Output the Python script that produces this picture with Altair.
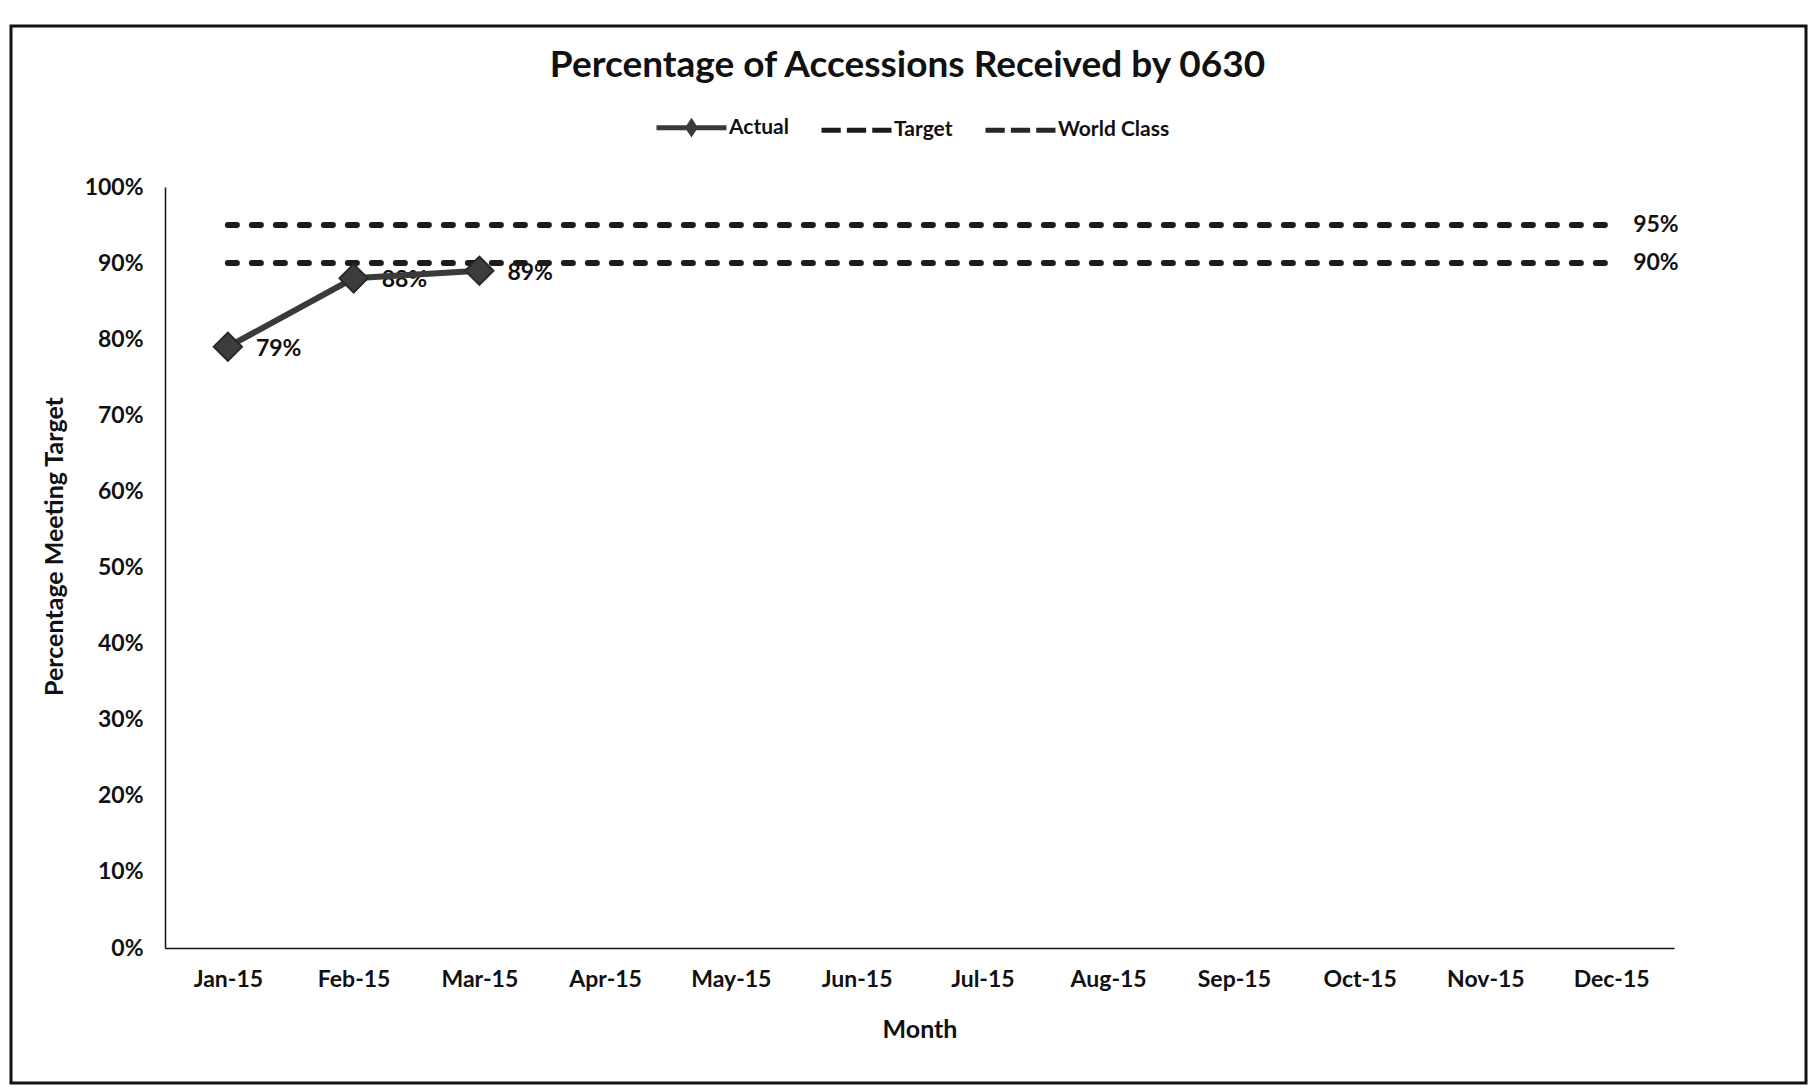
import altair as alt
import pandas as pd

# ---- data -------------------------------------------------------------
months = ["Jan-15", "Feb-15", "Mar-15", "Apr-15", "May-15", "Jun-15",
          "Jul-15", "Aug-15", "Sep-15", "Oct-15", "Nov-15", "Dec-15"]
actual_months = ["Jan-15", "Feb-15", "Mar-15"]
actual_values = [0.79, 0.88, 0.89]
target_values = [0.90, 0.90, 0.90, 0.90, 0.90, 0.90,
                 0.90, 0.90, 0.90, 0.90, 0.90, 0.90]
world_class_values = [0.95, 0.95, 0.95, 0.95, 0.95, 0.95,
                      0.95, 0.95, 0.95, 0.95, 0.95, 0.95]
series_names = ["Actual", "Target", "World Class"]
y_tick_values = [0.0, 0.1, 0.2, 0.3, 0.4, 0.5, 0.6, 0.7, 0.8, 0.9, 1.0]

rows = []
for m, v in zip(actual_months, actual_values):
    rows.append({"month": m, "series": "Actual", "value": v})
for m, v in zip(months, target_values):
    rows.append({"month": m, "series": "Target", "value": v})
for m, v in zip(months, world_class_values):
    rows.append({"month": m, "series": "World Class", "value": v})
df = pd.DataFrame(rows)

# ---- styling ----------------------------------------------------------
FONT = "Lato"
INK = "#111111"
LABEL_SIZE = 23
TITLE_SIZE = 25
ACTUAL_COLOR = "#3a3a3a"
REF_COLOR = "#1c1c1c"
series_colors = [ACTUAL_COLOR, REF_COLOR, "#262626"]

W, H = 1509, 761
PAD = {"left": 165, "top": 187, "right": 136, "bottom": 142}

# legend glyphs: a line with a small diamond for "Actual", three dashes otherwise
ACTUAL_GLYPH = "M-1,0H-0.1L0,-0.15L0.1,0H1M0.1,0L0,0.15L-0.1,0Z"
DASH_GLYPH = "M-1,0H-0.45M-0.275,0H0.275M0.45,0H1"

color_scale = alt.Scale(domain=series_names, range=series_colors)
shape_scale = alt.Scale(domain=series_names,
                        range=[ACTUAL_GLYPH, DASH_GLYPH, DASH_GLYPH])

legend_def = alt.Legend(
    title=None, orient="none", direction="horizontal",
    legendX=489, legendY=-97, padding=0,
    symbolSize=4900, symbolStrokeWidth=5, labelOffset=0,
    columnPadding=22, labelFont=FONT, labelFontSize=21,
    labelFontWeight="bold", labelColor=INK,
)

x_enc = alt.X(
    "month:O",
    sort=months,
    scale=alt.Scale(type="point", padding=0.5),
    axis=alt.Axis(title="Month", labelAngle=0, ticks=False, labelPadding=20,
                  titlePadding=26, domainColor=INK, domainWidth=1.5),
)
y_enc = alt.Y(
    "value:Q",
    scale=alt.Scale(domain=[0, 1], nice=False),
    axis=alt.Axis(title="Percentage Meeting Target", values=y_tick_values,
                  format=".0%", ticks=False, grid=False, labelPadding=22,
                  titlePadding=17, titleY=359, domainColor=INK, domainWidth=1.5),
)

base = alt.Chart(df)

# outer chart border
frame = alt.Chart(pd.DataFrame({"frame": [0]})).mark_rect(
    filled=False, stroke=INK, strokeWidth=3, clip=False
).encode(
    x=alt.value(-154), x2=alt.value(1641),
    y=alt.value(-161), y2=alt.value(896),
)

actual_only = base.transform_filter(alt.datum.series == "Actual")
reference_only = base.transform_filter(alt.datum.series != "Actual")

actual_labels = actual_only.mark_text(
    align="left", baseline="middle", dx=28, dy=2,
    font=FONT, fontSize=LABEL_SIZE, fontWeight="bold", color=INK,
).encode(x=x_enc, y=y_enc, text=alt.Text("value:Q", format=".0%"))

actual_line = actual_only.mark_line(
    strokeWidth=6, strokeCap="round", color=ACTUAL_COLOR
).encode(x=x_enc, y=y_enc)

reference_lines = reference_only.mark_line(
    strokeWidth=6, strokeCap="round", strokeDash=[9, 15], color=REF_COLOR
).encode(x=x_enc, y=y_enc, detail="series:N")

diamonds = actual_only.mark_point(
    shape="diamond", filled=True, size=800, color="#3d3d3d",
    stroke="#2a2a2a", strokeWidth=2, opacity=1,
).encode(x=x_enc, y=y_enc)

# legend carrier: draws no marks, only supplies the key glyphs
legend_layer = base.transform_filter("false").mark_point(
    filled=False, strokeWidth=5, opacity=1,
).encode(
    x=x_enc,
    y=y_enc,
    color=alt.Color("series:N", scale=color_scale, legend=legend_def),
    shape=alt.Shape("series:N", scale=shape_scale, legend=legend_def),
)

end_labels = reference_only.transform_filter(alt.datum.month == "Dec-15").mark_text(
    align="left", baseline="middle", dx=22,
    font=FONT, fontSize=LABEL_SIZE, fontWeight="bold", color=INK,
).encode(x=x_enc, y=y_enc, text=alt.Text("value:Q", format=".0%"))

chart = alt.layer(
    frame, actual_labels, reference_lines, actual_line, diamonds,
    legend_layer, end_labels,
).properties(
    width=W,
    height=H,
    autosize=alt.AutoSizeParams(type="none"),
    padding=PAD,
    background="white",
    title=alt.TitleParams(
        "Percentage of Accessions Received by 0630",
        font=FONT, fontSize=37, fontWeight="bold", color=INK,
        anchor="middle", frame="group", baseline="alphabetic",
        offset=-89, dx=-12,
    ),
).configure_axis(
    labelFont=FONT, labelFontSize=LABEL_SIZE, labelFontWeight="bold", labelColor=INK,
    titleFont=FONT, titleFontSize=TITLE_SIZE, titleFontWeight="bold", titleColor=INK,
).configure_view(strokeOpacity=0)

chart.save("out.html", embed_options={"renderer": "svg", "actions": False})
